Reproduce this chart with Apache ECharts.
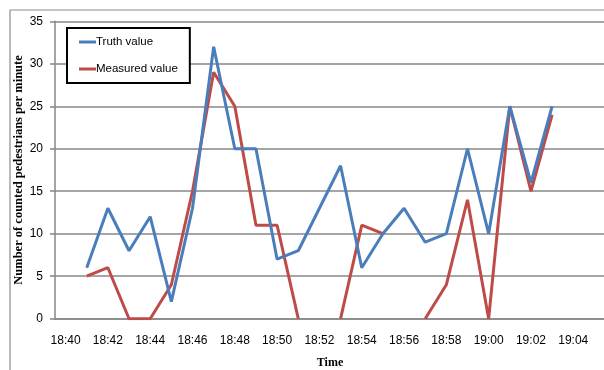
<!DOCTYPE html>
<html>
<head>
<meta charset="utf-8">
<script src="https://cdn.jsdelivr.net/npm/echarts@6/dist/echarts.min.js"></script>
<style>html,body{margin:0;padding:0;background:#fff;}#c{width:604px;height:370px;}</style>
</head>
<body>
<div id="c"></div>
<script>
const categories = ['18:40','18:41','18:42','18:43','18:44','18:45','18:46','18:47','18:48','18:49','18:50','18:51','18:52','18:53','18:54','18:55','18:56','18:57','18:58','18:59','19:00','19:01','19:02','19:03','19:04','19:05'];
const truthValue = [null,6,13,8,12,2,13,32,20,20,7,8,13,18,6,10,13,9,10,20,10,25,16,25,null,null];
const measuredValue = [null,5,6,0,0,4,15,29,25,11,11,0,null,0,11,10,null,0,4,14,0,25,15,24,null,null];
const yTicks = {min:0, max:35, interval:5};

const chart = echarts.init(document.getElementById('c'), null, {renderer:'canvas'});
const gridColor = '#878787';
chart.setOption({
  animation:false,
  backgroundColor:'#ffffff',
  graphic:[{type:'rect', shape:{x:10,y:10,width:700,height:500}, style:{fill:'none', stroke:'#8c8c8c', lineWidth:1.2}, silent:true, z:-10}],
  grid:{left:55, right:-1, top:21.3, bottom:51.3, containLabel:false, outerBoundsMode:'none'},
  legend:{
    left:67, top:28, orient:'vertical',
    padding:[8,12,8,12], itemGap:15,
    borderColor:'#000', borderWidth:2, backgroundColor:'#fff',
    itemWidth:17, itemHeight:3, icon:'rect',
    textStyle:{fontFamily:'Liberation Sans', fontSize:11.5, color:'#000', padding:[0,0,0,-5]},
    data:['Truth value','Measured value']
  },
  xAxis:{
    type:'category', data:categories, boundaryGap:true,
    axisLine:{show:true, lineStyle:{color:gridColor, width:1.5}},
    axisTick:{show:false},
    axisLabel:{interval:1, fontFamily:'Liberation Sans', fontSize:12, color:'#000', margin:16},
    splitLine:{show:false},
    name:'Time', nameLocation:'middle', nameGap:38, nameMoveOverlap:false,
    nameTextStyle:{fontFamily:'Liberation Serif', fontWeight:'bold', fontSize:12, color:'#000'}
  },
  yAxis:{
    type:'value', min:yTicks.min, max:yTicks.max, interval:yTicks.interval,
    axisLine:{show:true, lineStyle:{color:gridColor, width:1.5}},
    axisTick:{show:true, length:5, lineStyle:{color:gridColor, width:1.5}},
    axisLabel:{fontFamily:'Liberation Sans', fontSize:12, color:'#000', margin:12},
    splitLine:{show:true, lineStyle:{color:gridColor, width:1.5}},
    name:'Number of counted pedestrians per minute', nameLocation:'middle', nameGap:29.5, nameMoveOverlap:false,
    nameTextStyle:{fontFamily:'Liberation Serif', fontWeight:'bold', fontSize:12.5, color:'#000'}
  },
  series:[
    {name:'Truth value', type:'line', data:truthValue, symbol:'none', lineStyle:{color:'#4A7EBB', width:3}, itemStyle:{color:'#4A7EBB'}, connectNulls:false, z:3},
    {name:'Measured value', type:'line', data:measuredValue, symbol:'none', lineStyle:{color:'#BE4B48', width:3}, itemStyle:{color:'#BE4B48'}, connectNulls:false, z:2}
  ]
});
</script>
</body>
</html>
